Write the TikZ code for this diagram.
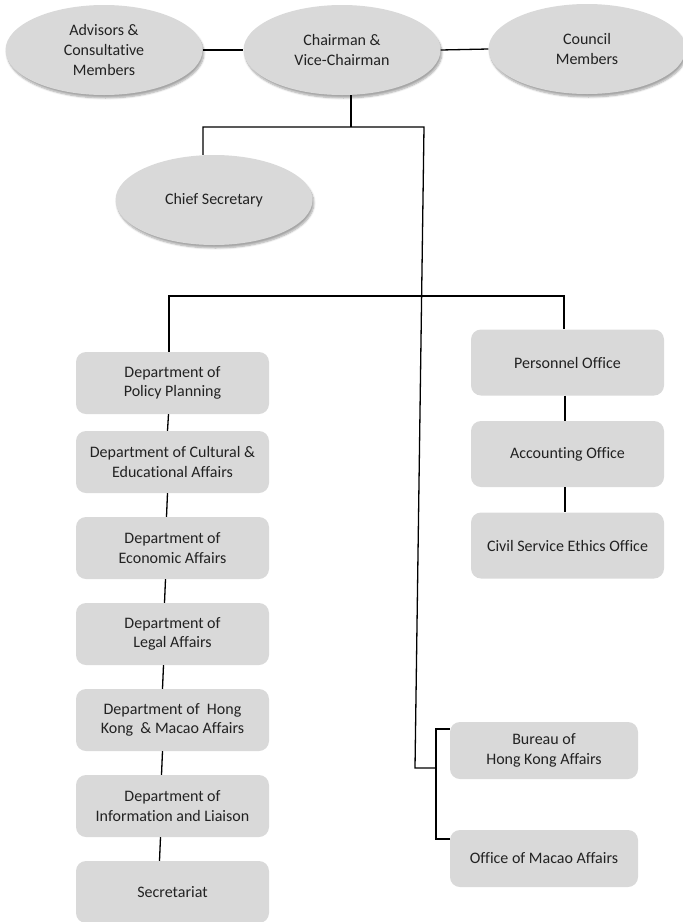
\documentclass[tikz,border=0pt]{standalone}
\usepackage{fontspec}
\setmainfont[Ligatures=NoCommon]{Carlito}
\usetikzlibrary{shapes.geometric,shadows.blur}
\definecolor{boxgray}{HTML}{D9D9D9}
\definecolor{txt}{HTML}{222222}
\tikzset{
  oval/.style={ellipse, fill=boxgray, minimum width=197pt, minimum height=90pt, inner sep=0pt,
    align=center, text=txt, font=\fontsize{16}{20}\selectfont,
    blur shadow={shadow xshift=1.5pt, shadow yshift=-3pt, shadow blur steps=6, shadow opacity=35}},
  lbox/.style={rectangle, rounded corners=10pt, fill=boxgray, inner sep=0pt,
    align=center, text=txt, font=\fontsize{16}{19.5}\selectfont},
  conn/.style={draw=black, line width=1.3pt}
}
\begin{document}
\begin{tikzpicture}[x=1pt,y=-1pt]
\useasboundingbox (0,0) rectangle (683,922);
% ellipses
\node[oval] (adv) at (104,50) {Advisors \&\\Consultative\\Members};
\node[oval] (ch) at (342,50) {Chairman \&\\Vice-Chairman};
\node[oval] (cou) at (587,49) {Council\\Members};
\node[oval] (cs) at (214,200) {Chief Secretary};
% left column
\tikzset{lcol/.style={lbox, minimum width=193pt, minimum height=62pt}}
\node[lcol] (pp) at (172.5,383) {Department of\\Policy Planning};
\node[lcol] (ce) at (172.5,462) {Department of Cultural \&\\Educational Affairs};
\node[lcol] (ec) at (172.5,548) {Department of\\Economic Affairs};
\node[lcol] (le) at (172.5,634) {Department of\\Legal Affairs};
\node[lcol] (hm) at (172.5,720) {Department of\ \ Hong\\Kong\ \ \& Macao Affairs};
\node[lcol] (il) at (172.5,806) {Department of\\Information and Liaison};
\node[lcol] (se) at (172.5,892) {Secretariat};
% right column
\tikzset{rcol/.style={lbox, minimum width=193pt, minimum height=66pt}}
\node[rcol] (po) at (567.5,362.5) {Personnel Office};
\node[rcol] (ao) at (567.5,454) {Accounting Office};
\node[rcol] (cse) at (567.5,545.5) {Civil Service Ethics Office};
% bottom right
\tikzset{bcol/.style={lbox, minimum width=188pt, minimum height=57pt}}
\node[bcol] (hk) at (544,750.5) {Bureau of\\Hong Kong Affairs};
\node[bcol] (mo) at (544,858.5) {Office of Macao Affairs};
% helper coordinates
\coordinate (j1) at (351,127);
\coordinate (jl) at (203,127);
\coordinate (jr) at (424,127);
\coordinate (jb) at (415,768);
\coordinate (bx) at (436,768);
\coordinate (bt) at (436,729);
\coordinate (bb) at (436,839);
\coordinate (hl) at (169,296);
\coordinate (hr) at (564,296);
% connectors
\draw[conn] (adv.east) -- (ch.west);
\draw[conn] (ch.east) -- (cou.west);
\draw[conn] (ch.south -| j1) -- (j1);
\draw[conn] (jl |- cs.north) -- (jl) -- (jr) -- (jb) -- (bx);
\draw[conn] (hk.west |- bt) -- (bt) -- (bb) -- (mo.west |- bb);
\draw[conn] (pp.north -| hl) -- (hl) -- (hr) -- (po.north -| hr);
\draw[conn] ([xshift=-4pt]pp.south) -- ([xshift=-5pt]ce.north);
\draw[conn] ([xshift=-5pt]ce.south) -- ([xshift=-6pt]ec.north);
\draw[conn] ([xshift=-7pt]ec.south) -- ([xshift=-8pt]le.north);
\draw[conn] ([xshift=-9pt]le.south) -- ([xshift=-10pt]hm.north);
\draw[conn] ([xshift=-10pt]hm.south) -- ([xshift=-11pt]il.north);
\draw[conn] ([xshift=-12pt]il.south) -- ([xshift=-13pt]se.north);
\draw[conn] ([xshift=-2.5pt]po.south) -- ([xshift=-2.5pt]ao.north);
\draw[conn] ([xshift=-2.5pt]ao.south) -- ([xshift=-2.5pt]cse.north);
\end{tikzpicture}
\end{document}
